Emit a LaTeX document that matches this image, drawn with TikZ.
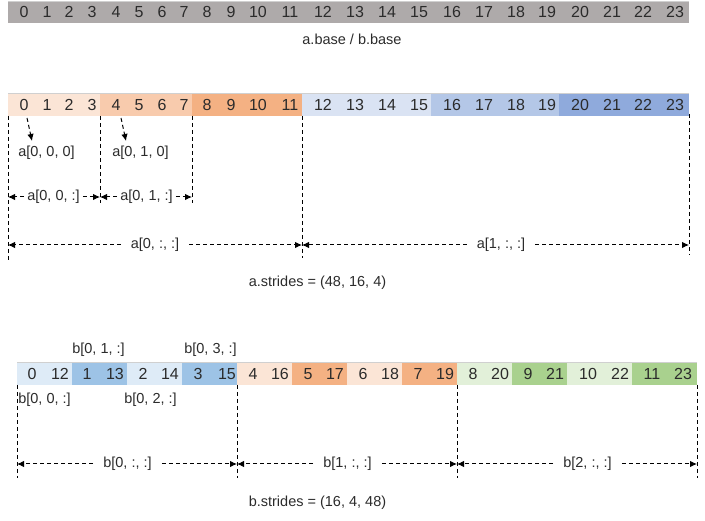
\documentclass[tikz,border=0pt]{standalone}
\usepackage{fontspec}
\setmainfont{Liberation Sans}
\usetikzlibrary{arrows.meta}
\definecolor{txt}{HTML}{2B2B2B}
\definecolor{basegray}{HTML}{AEAAAA}
\definecolor{topline}{HTML}{D0D0D0}
\definecolor{pa}{HTML}{FBE5D6}
\definecolor{pb}{HTML}{F8CBAD}
\definecolor{pc}{HTML}{F4B183}
\definecolor{ba}{HTML}{DAE3F3}
\definecolor{bb}{HTML}{B4C7E7}
\definecolor{bc}{HTML}{8FAADC}
\definecolor{lb}{HTML}{DEEBF7}
\definecolor{db}{HTML}{9DC3E6}
\definecolor{lg}{HTML}{E2F0D9}
\definecolor{dg}{HTML}{A9D18E}
\begin{document}
\begin{tikzpicture}[x=1pt,y=-1pt,
  num/.style={font=\fontsize{16}{19}\selectfont, text=txt, inner sep=0pt, text height=11.5pt, text depth=0pt},
  lbl/.style={font=\fontsize{14.5}{17}\selectfont, text=txt, inner sep=0pt, text height=10.5pt, text depth=3pt},
  vdash/.style={draw=black, line width=1pt, dash pattern=on 4pt off 3pt},
  darr/.style={vdash, -{Latex[length=7pt,width=6.5pt]}},
]
\useasboundingbox (0,0) rectangle (705,521);

% ---------- base bar ----------
\fill[basegray] (8,1) rectangle (689,23);
\draw[topline, line width=1pt] (8,1.5) -- (689,1.5);
\foreach \n/\x in {0/24,1/47,2/69,3/92,4/116,5/139,6/162,7/184,8/207,9/231,10/258,11/290,12/323,13/355,14/387,15/419,16/452,17/484,18/516,19/547,20/580,21/612,22/643,23/675}
  \node[num] (t\n) at (\x,12) {\n};
\node[lbl] (base) at (352,41) {a.base / b.base};

% ---------- a bar ----------
\foreach \l/\r/\c in {8/100/pa,100/192/pb,192/302/pc,302/431/ba,431/559/bb,559/689/bc}
  \fill[\c] (\l,93) rectangle (\r,116);
\draw[topline, line width=1pt] (8,93.5) -- (689,93.5);
\foreach \n/\x in {0/24,1/47,2/69,3/92,4/116,5/139,6/162,7/184,8/207,9/231,10/258,11/290,12/323,13/355,14/387,15/419,16/452,17/484,18/516,19/547,20/580,21/612,22/643,23/675}
  \node[num] (a\n) at (\x,104.5) {\n};

% vertical dashed guides (a)
\coordinate (av0t) at (8,116);   \coordinate (av0b) at (8,260);
\coordinate (av1t) at (100,116); \coordinate (av1b) at (100,203);
\coordinate (av2t) at (192,116); \coordinate (av2b) at (192,203);
\coordinate (av3t) at (302,116); \coordinate (av3b) at (302,258);
\coordinate (av4t) at (689,114); \coordinate (av4b) at (689,255);
\foreach \i in {0,...,4} \draw[vdash] (av\i t) -- (av\i b);

% element pointers
\node[lbl] (e000) at (46.5,153) {a[0, 0, 0]};
\node[lbl] (e010) at (140.5,153) {a[0, 1, 0]};
\coordinate (p0s) at (27,118); \coordinate (p0e) at (32,141);
\coordinate (p1s) at (121,118); \coordinate (p1e) at (126,141);
\draw[darr] (p0s) -- (p0e);
\draw[darr] (p1s) -- (p1e);

% a[0,0,:] and a[0,1,:]
\node[lbl] (s00) at (53.5,197) {a[0, 0, :]};
\node[lbl] (s01) at (146.5,197) {a[0, 1, :]};
\coordinate (h0) at (8,197); \coordinate (h1) at (100,197); \coordinate (h2) at (192,197);
\draw[darr] ([xshift=-3pt]s00.west) -- (h0);
\draw[darr] ([xshift=3pt]s00.east) -- (h1);
\draw[darr] ([xshift=-3pt]s01.west) -- (h1);
\draw[darr] ([xshift=3pt]s01.east) -- (h2);

% a[0,:,:] and a[1,:,:]
\node[lbl] (m0) at (155,245) {a[0, :, :]};
\node[lbl] (m1) at (501,245) {a[1, :, :]};
\coordinate (g0) at (8,245); \coordinate (g1) at (302,245); \coordinate (g2) at (689,245);
\draw[darr] ([xshift=-10pt]m0.west) -- (g0);
\draw[darr] ([xshift=10pt]m0.east) -- (g1);
\draw[darr] ([xshift=-10pt]m1.west) -- (g1);
\draw[darr] ([xshift=10pt]m1.east) -- (g2);

\node[lbl] (astr) at (317.5,283) {a.strides = (48, 16, 4)};

% ---------- b bar ----------
\foreach \l/\r/\c in {17/72/lb,72/127/db,127/182/lb,182/237/db,237/292/pa,292/347/pc,347/402/pa,402/457/pc,457/512/lg,512/567/dg,567/632/lg,632/697/dg}
  \fill[\c] (\l,362) rectangle (\r,385);
\draw[topline, line width=1pt] (17,362.5) -- (697,362.5);
\foreach \n/\x in {0/32,12/60,1/87,13/115,2/143,14/170,3/198,15/227,4/253,16/280,5/308,17/335,6/363,18/390,7/418,19/445,8/473,20/500,9/528,21/555,10/588,22/620,11/652,23/683}
  \node[num] (b\n) at (\x,373.5) {\n};

\node[lbl] (r01) at (98.5,350) {b[0, 1, :]};
\node[lbl] (r03) at (210.5,350) {b[0, 3, :]};
\node[lbl] (r00) at (44.5,400) {b[0, 0, :]};
\node[lbl] (r02) at (150.5,400) {b[0, 2, :]};

% vertical dashed guides (b)
\coordinate (bv0t) at (17,385);  \coordinate (bv0b) at (17,478);
\coordinate (bv1t) at (237,385); \coordinate (bv1b) at (237,478);
\coordinate (bv2t) at (457,385); \coordinate (bv2b) at (457,478);
\coordinate (bv3t) at (697,385); \coordinate (bv3b) at (697,478);
\foreach \i in {0,...,3} \draw[vdash] (bv\i t) -- (bv\i b);

\node[lbl] (n0) at (127.5,464) {b[0, :, :]};
\node[lbl] (n1) at (347.5,464) {b[1, :, :]};
\node[lbl] (n2) at (587.5,464) {b[2, :, :]};
\coordinate (k0) at (17,464); \coordinate (k1) at (237,464);
\coordinate (k2) at (457,464); \coordinate (k3) at (697,464);
\draw[darr] ([xshift=-10pt]n0.west) -- (k0);
\draw[darr] ([xshift=10pt]n0.east) -- (k1);
\draw[darr] ([xshift=-10pt]n1.west) -- (k1);
\draw[darr] ([xshift=10pt]n1.east) -- (k2);
\draw[darr] ([xshift=-10pt]n2.west) -- (k2);
\draw[darr] ([xshift=10pt]n2.east) -- (k3);

\node[lbl] (bstr) at (317.5,503) {b.strides = (16, 4, 48)};
\end{tikzpicture}
\end{document}
